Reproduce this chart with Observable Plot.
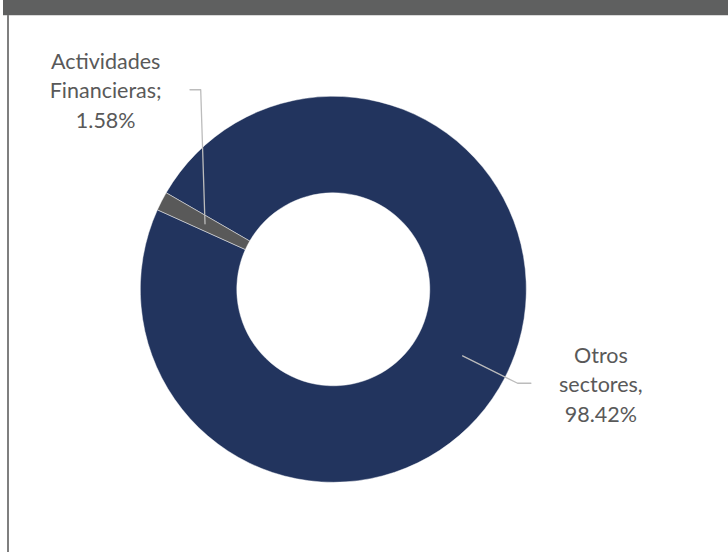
<!DOCTYPE html>
<html><head><meta charset="utf-8">
<script src="https://cdn.jsdelivr.net/npm/d3@7"></script>
<script src="https://cdn.jsdelivr.net/npm/@observablehq/plot@0.6"></script>
<style>
html,body{margin:0;padding:0;background:#fff;}
#wrap{position:relative;width:728px;height:552px;overflow:hidden;}
#topbar{position:absolute;left:3px;top:0;width:725px;height:15px;background:#5f6060;}
#topline{position:absolute;left:3px;top:15px;width:725px;height:1px;background:#d9d9d9;}
#leftline{position:absolute;left:7px;top:15px;width:1.5px;height:537px;background:#7f7f7f;}
#chart{position:absolute;left:0;top:0;}
</style></head><body>
<div id="wrap"><div id="chart"></div><div id="topbar"></div><div id="topline"></div><div id="leftline"></div></div>
<script>
// ---- data ----
const categories = ["Otros sectores", "Actividades Financieras"];
const values = [98.42, 1.58];
const labels = ["Otros\nsectores,\n98.42%", "Actividades\nFinancieras;\n1.58%"];
const colors = ["#22345e", "#595959"];

// ---- layout (pixels) ----
const W = 728, H = 552;
const CX = 333.3, CY = 289.3, RPX = 193;   // donut centre and outer radius
const INNER = 0.5;                          // hole ratio
const START_DEG = 300;                      // angle of first slice
// leader elbow / end and label offsets from slice centroid (px, y down)
const leaderOffsets = [
  [[55, 27.4], [68.3, 27.4]],
  [[-4.3, -134], [-15, -134]]
];
const labelOffsets = [[138.3, -14], [-99.3, -176]];

const table = categories.map((c, i) => ({name: c, value: values[i], label: labels[i], color: colors[i]}));
const pie = d3.pie().sort(null).value(d => d.value)
  .startAngle(START_DEG * Math.PI / 180).endAngle(START_DEG * Math.PI / 180 + 2 * Math.PI);
const arcs = pie(table);
const unitArc = d3.arc().innerRadius(INNER).outerRadius(1);
const cents = arcs.map(a => { const c = unitArc.centroid(a); return [c[0], -c[1]]; });

const leaders = [];
arcs.forEach((a, i) => {
  const c = cents[i];
  leaders.push({k: i, x: c[0], y: c[1]});
  leaderOffsets[i].forEach(o => leaders.push({k: i, x: c[0] + o[0] / RPX, y: c[1] - o[1] / RPX}));
});
const labelData = arcs.map((a, i) => ({
  label: a.data.label,
  x: cents[i][0] + labelOffsets[i][0] / RPX,
  y: cents[i][1] - labelOffsets[i][1] / RPX
}));

function donut(index, scales) {
  const cx = scales.x(0), cy = scales.y(0);
  const r = scales.x(1) - scales.x(0);
  const arc = d3.arc().innerRadius(r * INNER).outerRadius(r);
  const g = d3.create("svg:g").attr("transform", `translate(${cx},${cy})`);
  g.selectAll("path").data(arcs).join("path")
    .attr("d", arc)
    .attr("fill", d => d.data.color)
    .attr("stroke", "#ffffff").attr("stroke-opacity", 0.6).attr("stroke-width", 0.75);
  return g.node();
}

const chart = Plot.plot({
  width: W, height: H, margin: 0,
  style: {fontFamily: "Lato, sans-serif", background: "transparent"},
  x: {domain: [-CX / RPX, (W - CX) / RPX], axis: null},
  y: {domain: [-(H - CY) / RPX, CY / RPX], axis: null},
  marks: [
    donut,
    Plot.line(leaders, {x: "x", y: "y", z: "k", stroke: "#bcbcbc", strokeWidth: 1.3, curve: "linear"}),
    Plot.text(labelData, {x: "x", y: "y", text: "label", textAnchor: "middle", lineAnchor: "top",
      lineHeight: 1.372, fontSize: 21.5, fill: "#595959"})
  ]
});
document.getElementById("chart").appendChild(chart);
</script>
</body></html>
